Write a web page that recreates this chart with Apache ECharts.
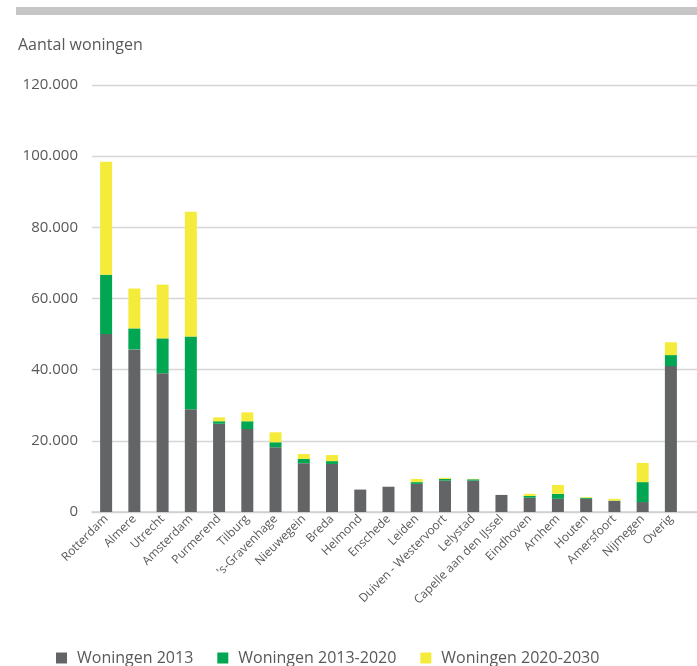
<!DOCTYPE html>
<html>
<head>
<meta charset="utf-8">
<script src="https://cdn.jsdelivr.net/npm/echarts@6/dist/echarts.min.js"></script>
<style>html,body{margin:0;padding:0;background:#fff;}#c{width:697px;height:666px;}</style>
</head>
<body>
<div id="c"></div>
<script>
const categories = ['Rotterdam','Almere','Utrecht','Amsterdam','Purmerend','Tilburg',"'s-Gravenhage",'Nieuwegein','Breda','Helmond','Enschede','Leiden','Duiven - Westervoort','Lelystad','Capelle aan den IJssel','Eindhoven','Arnhem','Houten','Amersfoort','Nijmegen','Overig'];
const woningen2013 = [50000,45700,39000,28900,24800,23300,18200,13700,13500,6300,7100,7900,8800,8800,4800,4000,3700,3700,3100,2800,41000];
const woningen2013_2020 = [16700,5900,9800,20400,700,2200,1400,1200,800,0,0,500,500,400,0,500,1400,300,100,5600,3100];
const woningen2020_2030 = [31700,11200,15100,35100,1100,2500,2800,1400,1700,0,0,900,300,100,0,600,2500,200,500,5400,3600];
const seriesNames = ['Woningen 2013','Woningen 2013-2020','Woningen 2020-2030'];
const yTicks = {min:0, max:120000, interval:20000};

const FONT = '"Open Sans", sans-serif';
const TXT = '#595959';
const chart = echarts.init(document.getElementById('c'), null, {renderer:'canvas'});
function fmt(v){ return v===0 ? '0' : String(v).replace(/\B(?=(\d{3})+(?!\d))/g,'.'); }
chart.setOption({
  animation:false,
  backgroundColor:'#fff',
  textStyle:{fontFamily:FONT},
  graphic:[{type:'rect',shape:{x:16,y:7,width:681,height:8},style:{fill:'#c6c6c6'}}],
  title:{text:'Aantal woningen',left:13,top:32,textStyle:{fontFamily:FONT,fontSize:16,fontWeight:'normal',color:TXT}},
  legend:{left:51,top:645,itemWidth:11,itemHeight:11,itemGap:24,icon:'rect',
    textStyle:{fontFamily:FONT,fontSize:16,color:TXT,padding:[0,0,0,5]},data:seriesNames},
  grid:[
    {left:92,right:12,top:85,bottom:154},
    {left:92,right:0,top:85,bottom:154}
  ],
  xAxis:[
    {gridIndex:0,type:'category',data:categories,axisLine:{show:false},axisTick:{show:false},
      axisLabel:{rotate:45,interval:0,fontSize:12,color:TXT,fontFamily:FONT,margin:5}},
    {gridIndex:1,type:'value',min:0,max:1,axisLine:{show:true,lineStyle:{color:'#d0d0d0',width:1.5}},
      axisTick:{show:false},axisLabel:{show:false},splitLine:{show:false}}
  ],
  yAxis:[
    {gridIndex:0,type:'value',min:yTicks.min,max:yTicks.max,interval:yTicks.interval,show:false,splitLine:{show:false}},
    {gridIndex:1,type:'value',min:yTicks.min,max:yTicks.max,interval:yTicks.interval,
      axisLine:{show:false},axisTick:{show:false},
      axisLabel:{formatter:fmt,fontSize:15,color:TXT,fontFamily:FONT,margin:14},
      splitLine:{show:true,lineStyle:{color:'#d6d6d6',width:1.3}}}
  ],
  series:[
    {name:seriesNames[0],type:'bar',stack:'s',xAxisIndex:0,yAxisIndex:0,barWidth:12,data:woningen2013,itemStyle:{color:'#636466'}},
    {name:seriesNames[1],type:'bar',stack:'s',xAxisIndex:0,yAxisIndex:0,barWidth:12,data:woningen2013_2020,itemStyle:{color:'#00a651'}},
    {name:seriesNames[2],type:'bar',stack:'s',xAxisIndex:0,yAxisIndex:0,barWidth:12,data:woningen2020_2030,itemStyle:{color:'#f5eb3b'}}
  ]
});
</script>
</body>
</html>
